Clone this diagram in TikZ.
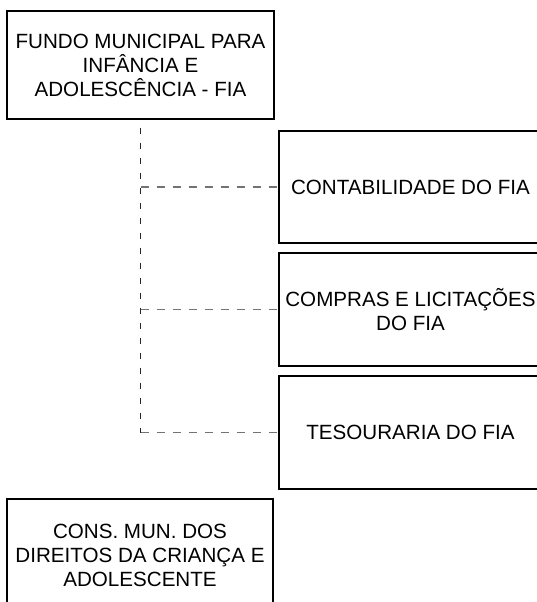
\documentclass[tikz,border=0pt]{standalone}
\usepackage{fontspec}
\setmainfont{Liberation Sans}
\begin{document}
\begin{tikzpicture}[x=1pt,y=-1pt,
  box/.style={draw=black,line width=1.3pt,inner sep=0pt,align=center,
    font=\fontsize{20.6}{24}\selectfont},
  vline/.style={draw=black!85,line width=1.1pt,dash pattern=on 6pt off 9pt,dash phase=7pt},
  hline/.style={draw=black!55,line width=1.6pt,dash pattern=on 8pt off 8pt}]
\useasboundingbox (0,0) rectangle (537,602);
\clip (0,0) rectangle (537,602);
\node[box,minimum width=267pt,minimum height=108pt] (fia) at (140.5,65)
  {FUNDO MUNICIPAL PARA\\INFÂNCIA E\\ADOLESCÊNCIA - FIA};
\node[box,minimum width=263pt,minimum height=112pt] (cont) at (410.5,187)
  {CONTABILIDADE DO FIA};
\node[box,minimum width=263pt,minimum height=113pt] (comp) at (410.5,309.5)
  {COMPRAS E LICITAÇÕES\\DO FIA};
\node[box,minimum width=263pt,minimum height=113pt] (tes) at (410.5,432.5)
  {TESOURARIA DO FIA};
\node[box,minimum width=266pt,minimum height=112pt] (cons) at (140,555)
  {CONS. MUN. DOS\\DIREITOS DA CRIANÇA E\\ADOLESCENTE};
\draw[vline] (fia.south) -- (fia.south |- tes.west);
\draw[hline] (fia.south |- cont.west) -- (cont.west);
\draw[hline] (fia.south |- comp.west) -- (comp.west);
\draw[hline] (fia.south |- tes.west) -- (tes.west);
\end{tikzpicture}
\end{document}
